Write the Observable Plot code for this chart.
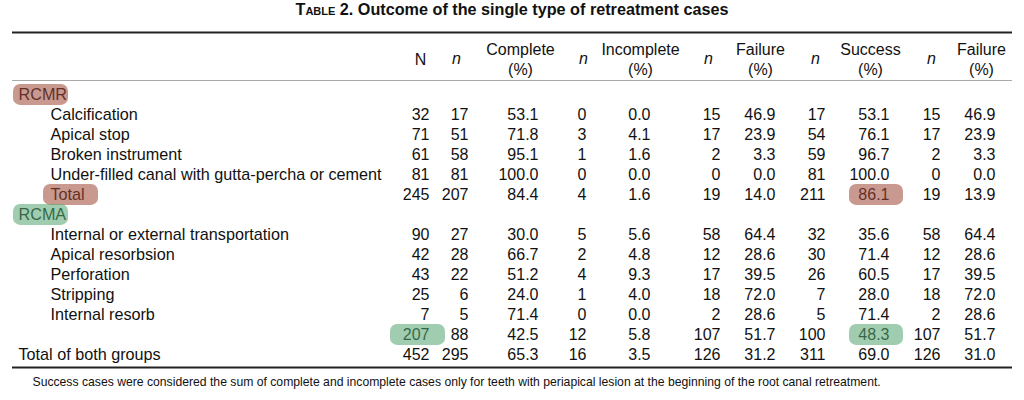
<!DOCTYPE html>
<html>
<head>
<meta charset="utf-8">
<script src="https://cdn.jsdelivr.net/npm/d3@7"></script>
<script src="https://cdn.jsdelivr.net/npm/@observablehq/plot@0.6"></script>
<style>
  html, body { margin: 0; padding: 0; background: #fff; }
  #title { height: 30px; line-height: 30px; text-align: center; font: bold 16.2px "Liberation Sans", Arial, sans-serif; color: #111; }
  #title .sc { font-variant: small-caps; }
  #chart svg { display: block; }
</style>
</head>
<body>
<div id="title"><span class="sc">Table</span> 2. Outcome of the single type of retreatment cases</div>
<div id="chart"></div>
<script>
// ---------------- DATA ----------------
const rowLabels = ["RCMR", "Calcification", "Apical stop", "Broken instrument",
  "Under-filled canal with gutta-percha or cement", "Total", "RCMA",
  "Internal or external transportation", "Apical resorbsion", "Perforation",
  "Stripping", "Internal resorb", "", "Total of both groups"];
const rowLevel = [0, 1, 1, 1, 1, 1, 0, 1, 1, 1, 1, 1, 1, 0];

const nTotal        = [null, 32, 71, 61, 81, 245, null, 90, 42, 43, 25, 7, 207, 452];
const nCases        = [null, 17, 51, 58, 81, 207, null, 27, 28, 22, 6, 5, 88, 295];
const pctComplete   = [null, 53.1, 71.8, 95.1, 100.0, 84.4, null, 30.0, 66.7, 51.2, 24.0, 71.4, 42.5, 65.3];
const nIncomplete   = [null, 0, 3, 1, 0, 4, null, 5, 2, 4, 1, 0, 12, 16];
const pctIncomplete = [null, 0.0, 4.1, 1.6, 0.0, 1.6, null, 5.6, 4.8, 9.3, 4.0, 0.0, 5.8, 3.5];
const nFailure      = [null, 15, 17, 2, 0, 19, null, 58, 12, 17, 18, 2, 107, 126];
const pctFailure    = [null, 46.9, 23.9, 3.3, 0.0, 14.0, null, 64.4, 28.6, 39.5, 72.0, 28.6, 51.7, 31.2];
const nSuccess      = [null, 17, 54, 59, 81, 211, null, 32, 30, 26, 7, 5, 100, 311];
const pctSuccess    = [null, 53.1, 76.1, 96.7, 100.0, 86.1, null, 35.6, 71.4, 60.5, 28.0, 71.4, 48.3, 69.0];
const nFailure2     = [null, 15, 17, 2, 0, 19, null, 58, 12, 17, 18, 2, 107, 126];
const pctFailure2   = [null, 46.9, 23.9, 3.3, 0.0, 13.9, null, 64.4, 28.6, 39.5, 72.0, 28.6, 51.7, 31.0];

const columnHeaders = ["N", "n", "Complete\n(%)", "n", "Incomplete\n(%)", "n",
  "Failure\n(%)", "n", "Success\n(%)", "n", "Failure\n(%)"];
const footnote = "Success cases were considered the sum of complete and incomplete cases only for teeth with periapical lesion at the beginning of the root canal retreatment.";

// highlighted cells: row index, column ("label" or column index), tone
const highlightCells = [
  {row: 0, col: "label", tone: "red"},
  {row: 5, col: "label", tone: "red"},
  {row: 5, col: 8, tone: "red"},
  {row: 6, col: "label", tone: "green"},
  {row: 12, col: 0, tone: "green"},
  {row: 12, col: 8, tone: "green"}
];

// ---------------- LAYOUT (positions / styles) ----------------
const columns = [nTotal, nCases, pctComplete, nIncomplete, pctIncomplete, nFailure,
  pctFailure, nSuccess, pctSuccess, nFailure2, pctFailure2];
const isPct = [false, false, true, false, true, false, true, false, true, false, true];
const colRight = [429, 468, 538, 586, 650, 720, 775, 825, 889, 940, 995];
const colCenter = [420, 456, 520, 583, 640, 708, 760, 815, 870, 931, 981];
const labelIndent = [18, 50];
const headerY = -1.825;
const rules = [
  {y: -3.125, stroke: "#222", width: 2},
  {y: -0.725, stroke: "#aaa", width: 1},
  {y: 13.625, stroke: "#222", width: 2}
];
const ruleX = [12, 1012];
const footY = 14.375;
const footX = 32;
const hlExtent = {
  "0|label": [13, 68], "5|label": [43, 98], "6|label": [13, 68],
  "5|8": [849, 903], "12|0": [390, 445], "12|8": [849, 903]
};
const toneColor = {red: "rgb(158,72,55)", green: "rgb(86,166,112)"};

// ---------------- BUILD ----------------
const labelCells = rowLabels.map((label, i) => ({row: i, label, level: rowLevel[i]}))
  .filter(d => d.label !== "");
const cells = [];
rowLabels.forEach((_, i) => {
  columns.forEach((arr, j) => {
    const v = arr[i];
    if (v == null) return;
    cells.push({row: i, col: j, text: isPct[j] ? v.toFixed(1) : String(v)});
  });
});
const headers = columnHeaders.map((h, j) => ({col: j, text: h, italic: h === "n"}));
const highlights = highlightCells.map(d => {
  const [x1, x2] = hlExtent[d.row + "|" + d.col];
  return {...d, x1, x2};
});

const font = "'Liberation Sans', Arial, Helvetica, sans-serif";
const chart = Plot.plot({
  width: 1024,
  height: 370,
  margin: 0,
  x: {type: "linear", domain: [0, 1024], range: [0, 1024], axis: null},
  y: {type: "linear", domain: [-3.225, 15.275], range: [0, 370], axis: null},
  style: {fontFamily: font, fontSize: "16px", color: "#111", background: "#fff"},
  marks: [
    Plot.ruleY(rules, {y: "y", x1: ruleX[0], x2: ruleX[1], stroke: "stroke", strokeWidth: "width"}),
    Plot.text(headers.filter(d => !d.italic), {x: d => colCenter[d.col], y: headerY, text: "text",
      fontSize: 16, lineHeight: 1.25, fill: "#111", textAnchor: "middle"}),
    Plot.text(headers.filter(d => d.italic), {x: d => colCenter[d.col], y: headerY, text: "text",
      fontSize: 16, fontStyle: "italic", fill: "#111", textAnchor: "middle"}),
    Plot.text(labelCells, {x: d => labelIndent[d.level], y: "row", text: "label",
      textAnchor: "start", fontSize: 16.2, fill: "#111"}),
    Plot.text(cells, {x: d => colRight[d.col], y: "row", text: "text",
      textAnchor: "end", fontSize: 16, fill: "#111"}),
    Plot.rect(highlights, {x1: "x1", x2: "x2", y1: d => d.row - 0.53, y2: d => d.row + 0.52,
      fill: d => toneColor[d.tone], fillOpacity: 0.56, rx: 7}),
    Plot.text([footnote], {x: footX, y: footY, text: d => d, textAnchor: "start",
      fontSize: 12.2, fill: "#111"})
  ]
});
document.getElementById("chart").appendChild(chart);
</script>
</body>
</html>
